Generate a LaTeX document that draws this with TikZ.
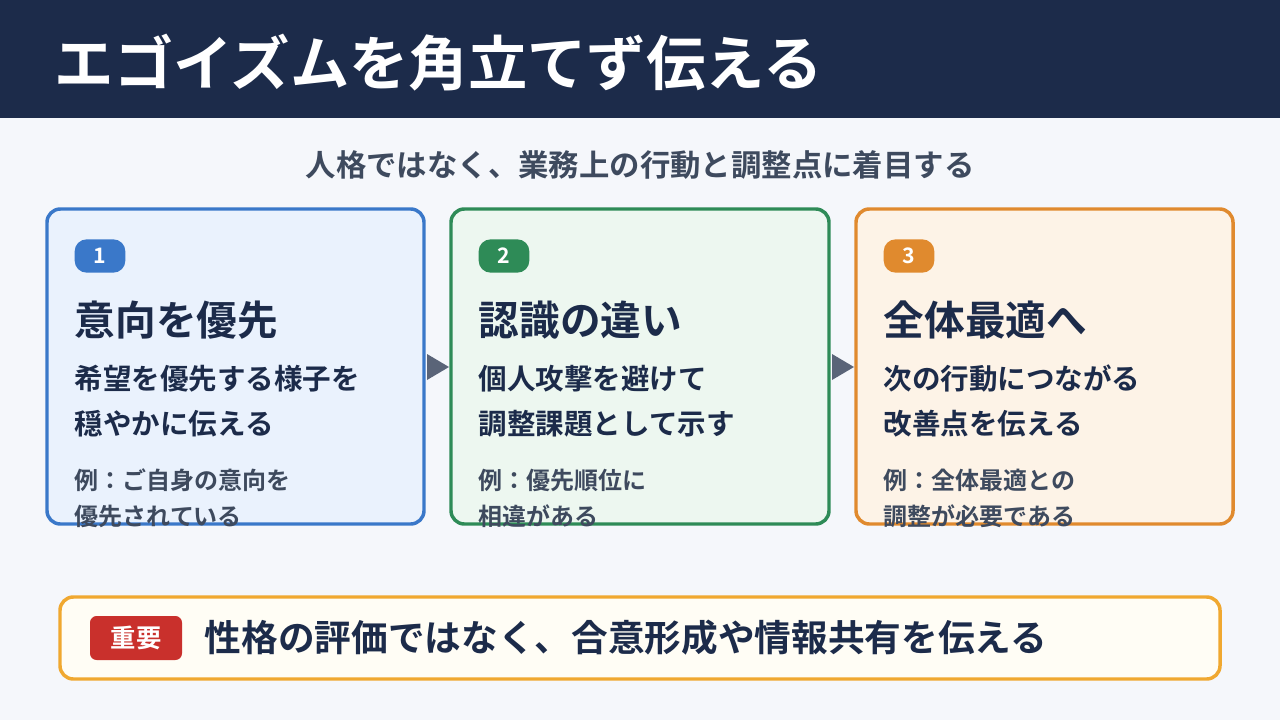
\documentclass[tikz,border=0pt]{standalone}
\usepackage{fontspec}
\setmainfont{Noto Sans CJK JP}[BoldFont={* Bold}]
\usetikzlibrary{positioning}
\definecolor{navy}{HTML}{1C2B4A}
\definecolor{pagebg}{HTML}{F5F7FB}
\definecolor{subgray}{HTML}{3E4A5E}
\definecolor{blueline}{HTML}{3A78C9}
\definecolor{bluefill}{HTML}{EAF2FD}
\definecolor{greenline}{HTML}{2E8B57}
\definecolor{greenfill}{HTML}{EDF7F0}
\definecolor{orangeline}{HTML}{E08A2E}
\definecolor{orangefill}{HTML}{FDF3E7}
\definecolor{goldline}{HTML}{F0A830}
\definecolor{goldfill}{HTML}{FFFDF5}
\definecolor{badgered}{HTML}{C9302C}
\definecolor{arrowgray}{HTML}{5A6478}
\tikzset{
  card/.style={draw=#1line, fill=#1fill, line width=2.6pt, rounded corners=10pt},
  num/.style={fill=#1line, rounded corners=9pt, minimum width=38pt, minimum height=25pt,
    inner sep=0pt, text=white, font=\fontsize{16}{16}\selectfont\bfseries},
  headline/.style={anchor=west, text=navy, font=\fontsize{30.5}{34}\selectfont\bfseries},
  bodytext/.style={anchor=north west, text=navy, align=left,
    font=\fontsize{21.4}{34}\selectfont\bfseries},
  example/.style={anchor=north west, text=subgray, align=left,
    font=\fontsize{18}{27}\selectfont\bfseries},
  steptip/.style={fill=arrowgray, draw=none},
}
\begin{document}
\begin{tikzpicture}[x=0.75pt,y=-0.75pt]
\useasboundingbox (0,0) rectangle (1280,720);
\fill[pagebg] (0,0) rectangle (1280,720);
\fill[navy] (0,0) rectangle (1280,118);
\node[anchor=west, text=white, font=\fontsize{44.5}{48}\selectfont\bfseries] (title) at (50,63) {エゴイズムを角立てず伝える};
\node[text=subgray, font=\fontsize{22.8}{26}\selectfont\bfseries] (subtitle) at (640,165) {人格ではなく、業務上の行動と調整点に着目する};

% cards
\draw[card=blue] (47,209) rectangle (424,524);
\draw[card=green] (451,209) rectangle (829,524);
\draw[card=orange] (856,209) rectangle (1233,524);

\node[num=blue] (n1) at (100,256) {1};
\node[num=green] (n2) at (504,256) {2};
\node[num=orange] (n3) at (909,256) {3};

\node[headline] (h1) at (70,320) {意向を優先};
\node[headline] (h2) at (474,320) {認識の違い};
\node[headline] (h3) at (879,320) {全体最適へ};

\node[bodytext] (b1) at (70,360) {希望を優先する様子を\\穏やかに伝える};
\node[bodytext] (b2) at (474,360) {個人攻撃を避けて\\調整課題として示す};
\node[bodytext] (b3) at (879,360) {次の行動につながる\\改善点を伝える};

\node[example] (e1) at (70,464) {例：ご自身の意向を\\優先されている};
\node[example] (e2) at (474,464) {例：優先順位に\\相違がある};
\node[example] (e3) at (879,464) {例：全体最適との\\調整が必要である};

% arrows between cards
\fill[steptip] (427,354) -- (449,367) -- (427,380) -- cycle;
\fill[steptip] (832,354) -- (854,367) -- (832,380) -- cycle;

% bottom note
\draw[draw=goldline, fill=goldfill, line width=2.6pt, rounded corners=10pt] (60,597) rectangle (1220,679);
\node[fill=badgered, rounded corners=5pt, text=white, minimum width=69pt, minimum height=33pt,
  inner sep=0pt, font=\fontsize{19}{19}\selectfont\bfseries] (badge) at (136,638) {重要};
\node[anchor=west, text=navy, font=\fontsize{27.5}{30}\selectfont\bfseries] (note) at (200,638) {性格の評価ではなく、合意形成や情報共有を伝える};
\end{tikzpicture}
\end{document}
